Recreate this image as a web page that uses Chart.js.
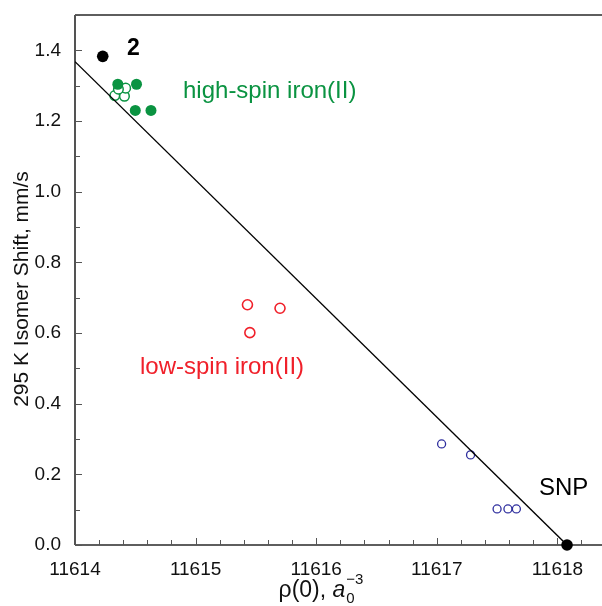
<!DOCTYPE html>
<html>
<head>
<meta charset="utf-8">
<script src="https://cdn.jsdelivr.net/npm/chart.js@4.4.1/dist/chart.umd.min.js"></script>
<style>
  html, body { margin: 0; padding: 0; background: #ffffff; }
  #wrap { width: 602px; height: 606px; position: relative; }
</style>
</head>
<body>
<div id="wrap"><canvas id="c" width="602" height="606"></canvas></div>
<script>
// ---- data ----
const xTicks = [11614, 11615, 11616, 11617, 11618];
const yTicks = [0.0, 0.2, 0.4, 0.6, 0.8, 1.0, 1.2, 1.4];

const highSpinFilledX = [11614.355, 11614.51, 11614.50, 11614.63];
const highSpinFilledY = [1.304, 1.304, 1.23, 1.23];

const highSpinOpenX = [11614.33, 11614.41, 11614.42, 11614.36];
const highSpinOpenY = [1.272, 1.270, 1.293, 1.290];

const lowSpinX = [11615.43, 11615.70, 11615.45];
const lowSpinY = [0.680, 0.670, 0.601];

const otherX = [11617.04, 11617.28, 11617.50, 11617.59, 11617.66];
const otherY = [0.286, 0.255, 0.102, 0.102, 0.102];

const refX = [11614.23, 11618.08];   // compound 2, SNP
const refY = [1.383, 0.0];

const fitX = [11614.0, 11618.08];
const fitY = [1.368, 0.0];

const GREEN = '#0a9341';
const RED = '#f0202a';
const BLUE = '#2e2e9e';
const AXIS = '#2a2a2a';
const FONT = '"Liberation Sans", Arial, sans-serif';

const pts = (xs, ys) => xs.map((x, i) => ({ x: x, y: ys[i] }));

const axesPlugin = {
  id: 'axesPlugin',
  beforeDatasetsDraw(chart) {
    const ctx = chart.ctx;
    const xs = chart.scales.x, ys = chart.scales.y;
    const a = chart.chartArea;
    ctx.save();
    ctx.strokeStyle = AXIS;
    ctx.lineWidth = 1.6;
    ctx.beginPath();
    ctx.moveTo(a.left, a.top); ctx.lineTo(a.right, a.top);
    ctx.moveTo(a.left, a.top); ctx.lineTo(a.left, a.bottom);
    ctx.moveTo(a.left, a.bottom); ctx.lineTo(a.right, a.bottom);
    ctx.stroke();
    ctx.lineWidth = 1;
    ctx.strokeStyle = '#555';
    ctx.beginPath();
    for (let i = 0; i <= 22; i++) {
      const v = xTicks[0] + i * 0.2;
      if (v > xs.max) break;
      const px = Math.round(xs.getPixelForValue(v)) + 0.5;
      const major = i % 5 === 0;
      ctx.moveTo(px, a.bottom); ctx.lineTo(px, a.bottom - (major ? 7 : 5));
    }
    for (let i = 0; i <= 15; i++) {
      const v = i * 0.1;
      const py = Math.round(ys.getPixelForValue(v)) + 0.5;
      const major = i % 2 === 0;
      ctx.moveTo(a.left, py); ctx.lineTo(a.left + (major ? 7 : 5), py);
    }
    ctx.stroke();
    ctx.restore();
  },
  afterDraw(chart) {
    const ctx = chart.ctx;
    ctx.save();
    ctx.textBaseline = 'alphabetic';
    ctx.textAlign = 'left';
    ctx.fillStyle = '#000';
    ctx.font = 'bold 23px ' + FONT;
    ctx.fillText('2', 127, 55);
    ctx.fillStyle = GREEN;
    ctx.font = '24px ' + FONT;
    ctx.fillText('high-spin iron(II)', 183, 98);
    ctx.fillStyle = RED;
    ctx.fillText('low-spin iron(II)', 140, 374);
    ctx.fillStyle = '#000';
    ctx.font = '24px ' + FONT;
    ctx.fillText('SNP', 539, 495);

    // y title
    ctx.save();
    ctx.translate(22, 289);
    ctx.rotate(-Math.PI / 2);
    ctx.textAlign = 'center';
    ctx.textBaseline = 'middle';
    ctx.fillStyle = '#111';
    ctx.font = '21px ' + FONT;
    ctx.fillText('295 K Isomer Shift, mm/s', 0, 0);
    ctx.restore();

    // x title: ρ(0), a0^-3
    const f1 = '23px ' + FONT;
    const fi = 'italic 23px ' + FONT;
    const fs = '15px ' + FONT;
    ctx.font = f1; const w0 = ctx.measureText('ρ(0), ').width;
    ctx.font = fi; const w1 = ctx.measureText('a').width;
    ctx.font = fs; const w2 = Math.max(ctx.measureText('0').width, ctx.measureText('−3').width);
    const total = w0 + w1 + w2 + 1;
    const cx = 321;
    let x = cx - total / 2;
    const base = 597;
    ctx.fillStyle = '#111';
    ctx.font = f1; ctx.fillText('ρ(0), ', x, base); x += w0;
    ctx.font = fi; ctx.fillText('a', x, base); x += w1 + 1;
    ctx.font = fs; ctx.fillText('0', x, base + 6);
    ctx.fillText('−3', x, base - 13);
    ctx.restore();
  }
};

new Chart(document.getElementById('c'), {
  type: 'scatter',
  data: {
    datasets: [
      {
        label: 'fit',
        data: pts(fitX, fitY),
        showLine: true,
        borderColor: '#000',
        borderWidth: 1.4,
        pointRadius: 0,
        fill: false
      },
      {
        label: 'high-spin filled',
        data: pts(highSpinFilledX, highSpinFilledY),
        pointRadius: 5.5,
        pointBackgroundColor: GREEN,
        pointBorderColor: GREEN,
        pointBorderWidth: 0,
        clip: false
      },
      {
        label: 'high-spin open',
        data: pts(highSpinOpenX, highSpinOpenY),
        pointRadius: 4.8,
        pointBackgroundColor: '#ffffff',
        pointBorderColor: GREEN,
        pointBorderWidth: 1.5,
        clip: false
      },
      {
        label: 'low-spin',
        data: pts(lowSpinX, lowSpinY),
        pointRadius: 5,
        pointBackgroundColor: 'rgba(255,255,255,0)',
        pointBorderColor: RED,
        pointBorderWidth: 1.6,
        clip: false
      },
      {
        label: 'other',
        data: pts(otherX, otherY),
        pointRadius: 4,
        pointBackgroundColor: 'rgba(255,255,255,0)',
        pointBorderColor: BLUE,
        pointBorderWidth: 1.3,
        clip: false
      },
      {
        label: 'reference',
        data: pts(refX, refY),
        pointRadius: 5.8,
        pointBackgroundColor: '#000',
        pointBorderColor: '#000',
        pointBorderWidth: 0,
        clip: false
      }
    ]
  },
  options: {
    responsive: false,
    animation: false,
    devicePixelRatio: 1,
    layout: { autoPadding: false, padding: { top: 15, right: 0, left: 0, bottom: 0 } },
    plugins: { legend: { display: false }, tooltip: { enabled: false } },
    scales: {
      x: {
        type: 'linear',
        min: 11614,
        max: 11618.37,
        afterBuildTicks: s => { s.ticks = xTicks.map(v => ({ value: v })); },
        afterFit: s => { s.height = 61; s.paddingLeft = 0; s.paddingRight = 0; },
        grid: { display: false },
        border: { display: false },
        ticks: {
          color: '#111',
          padding: 5,
          maxRotation: 0,
          autoSkip: false,
          font: { family: FONT, size: 19 },
          callback: v => String(v)
        }
      },
      y: {
        type: 'linear',
        min: 0,
        max: 1.5,
        afterBuildTicks: s => { s.ticks = yTicks.map(v => ({ value: v })); },
        afterFit: s => { s.width = 75; s.paddingTop = 0; s.paddingBottom = 0; },
        grid: { display: false },
        border: { display: false },
        ticks: {
          color: '#111',
          padding: 6,
          autoSkip: false,
          font: { family: FONT, size: 19 },
          callback: v => Number(v).toFixed(1)
        }
      }
    }
  },
  plugins: [axesPlugin]
});
</script>
</body>
</html>
